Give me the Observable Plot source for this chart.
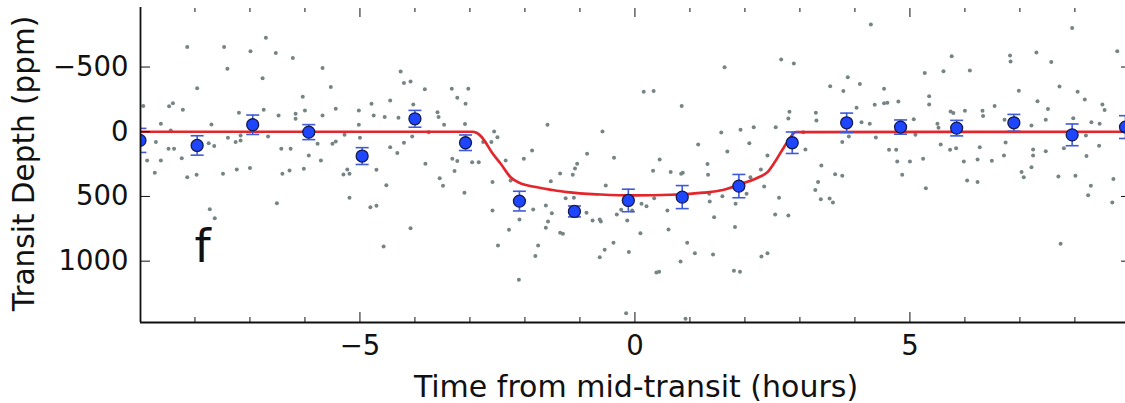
<!DOCTYPE html>
<html><head><meta charset="utf-8">
<script src="https://cdn.jsdelivr.net/npm/d3@7"></script>
<script src="https://cdn.jsdelivr.net/npm/@observablehq/plot@0.6"></script>
<style>html,body{margin:0;padding:0;background:#fff;overflow:hidden}</style>
</head><body><div id="chart"></div>
<script>
// Raw light-curve points: time (hours) and depth (ppm)
const scatterT = [
-8.14,-7.47,-6.71,-6.99,-6.53,-6.22,-7.41,-5.68,-6.77,-7.96,-5.53,-6.04,-8.40,-8.47,-8.94,-8.22,-7.20,-6.75,-6.48,-6.17,-6.17,-6.00,-5.68,-5.44,-5.02,-4.79,-4.75,-4.55,-4.45,-4.26,-4.20,-4.08,-3.82,-4.03,-4.30,-3.59,-3.57,-3.47,-3.33,-3.23,-3.08,-3.03,-3.09,-8.62,-7.70,-5.02,-8.44,-8.71,-8.48,-8.38,-8.24,-8.62,-8.87,-7.75,-7.65,-7.40,-7.26,-7.17,-7.17,-6.67,-6.43,-6.26,-5.93,-5.77,-5.71,-5.50,-5.44,-5.28,-5.00,-4.45,-4.32,-4.20,-4.05,-3.81,-3.32,-3.23,-3.75,
-8.73,-8.14,-7.97,-7.49,-7.24,-7.00,-6.41,-6.28,-6.02,-5.30,-5.23,-5.19,-4.70,-4.52,-5.19,-6.51,-4.81,-4.70,-7.73,-7.64,-4.08,-4.57,-3.55,-3.49,-3.28,-3.10,
-1.59,-2.56,-2.50,-2.61,-2.76,-1.87,-2.35,-2.02,-2.84,-2.96,-1.05,-0.87,-0.38,-0.59,0.16,0.34,0.85,1.63,2.66,2.89,2.81,2.79,2.56,2.16,1.92,1.57,2.08,1.15,1.68,0.45,1.32,2.41,
-2.59,-2.26,-1.53,-1.36,-1.13,-1.09,-0.53,0.33,0.65,0.84,0.87,1.33,2.29,2.10,2.35,2.62,2.55,2.79,1.35,1.36,1.44,1.83,1.82,1.59,2.03,-2.59,-2.10,-1.85,-1.62,-1.51,-1.26,-1.11,-0.88,-0.77,-0.64,-0.62,-0.33,-0.25,-0.05,0.12,0.21,0.35,0.59,-0.14,0.10,0.61,-1.58,-1.62,-2.29,-1.36,-1.31,-2.49,-1.76,-1.81,-0.39,-0.55,-0.64,-0.11,0.39,0.44,0.83,0.95,1.09,1.42,1.80,1.91,2.30,2.41,-2.11,-0.16,0.92,
4.29,7.95,5.76,6.82,6.83,7.30,7.57,8.77,5.27,5.61,6.09,3.87,3.55,4.09,3.79,4.53,6.98,7.72,8.05,8.18,5.35,5.35,4.79,4.36,4.53,4.59,4.03,3.29,3.30,4.12,4.27,5.07,5.50,5.52,5.74,5.79,6.00,6.32,6.33,6.54,6.72,7.21,7.32,7.47,7.51,8.30,8.45,8.50,8.54,7.97,3.06,3.89,3.77,4.38,5.10,3.10,4.62,4.75,5.56,5.73,5.84,6.27,6.74,6.71,7.24,7.24,7.47,7.80,8.20,8.21,8.44,4.77,5.00,5.24,5.98,6.23,6.49,3.39,
3.33,3.28,3.38,3.54,3.60,3.64,3.77,4.86,5.29,6.04,6.23,7.03,7.07,7.21,7.70,8.01,8.29,8.24,8.70,8.68,7.74
];
const scatterD = [
-654,-654,-726,-621,-608,-569,-487,-492,-414,-337,-345,-270,-221,-196,-198,-170,-147,-170,-126,-139,-100,-165,-126,-178,-165,-216,-126,-113,-242,-466,-376,-389,-329,-211,-108,-151,-113,-54,-332,-263,-216,-332,-59,-62,-56,-54,-10,80,131,131,204,222,222,88,111,46,80,67,29,36,131,131,183,93,222,93,75,23,46,119,165,85,36,247,209,227,3,
317,351,332,325,291,281,325,299,286,330,291,325,294,413,510,552,583,572,598,668,745,886,359,417,304,471,
-54,-2,42,80,80,145,222,209,235,235,247,170,201,-2,-309,-314,-198,-499,-559,-528,-155,-103,-35,-35,-15,5,88,98,152,214,250,183,
389,376,382,322,332,284,415,301,312,325,317,332,291,351,423,510,639,647,479,539,660,556,737,498,479,608,678,600,570,629,513,510,626,685,678,693,639,603,608,556,575,513,608,685,784,755,693,742,757,781,788,879,879,961,858,912,969,930,1087,1082,1002,858,938,948,1074,1082,964,938,1144,1402,1445,
-829,-801,-584,-590,-543,-613,-538,-621,-453,-468,-474,-422,-352,-368,-314,-332,-317,-350,-309,-250,-275,-211,-234,-209,-221,-224,-185,-147,-87,-74,-62,-97,-62,-31,-157,-144,-162,-162,-121,-198,-93,-49,-236,-93,-175,-74,-62,-211,-168,-105,3,36,80,44,23,137,139,139,98,139,127,119,83,183,137,183,150,127,29,188,108,230,230,209,230,214,224,260,
389,451,521,515,546,328,340,332,436,376,389,312,351,274,345,340,417,490,366,546,866
];

// Binned points with error bars
const binT   = [-9.0,-7.96,-6.95,-5.93,-4.96,-4.0,-3.08,-2.10,-1.10,-0.12,0.86,1.89,2.86,3.85,4.83,5.85,6.89,7.95,8.92];
const binD   = [67,106,-54,3,188,-100,85,536,616,531,505,420,85,-69,-36,-28,-69,24,-36];
const binErr = [93,75,75,58,65,65,60,76,42,87,89,90,83,75,55,60,65,84,88];

// Transit model curve
const modelT = [-8.99,-2.96,-2.88,-2.8,-2.74,-2.6,-2.44,-2.26,-2.1,-1.83,-1.5,-1.23,-0.62,0,0.65,1.25,1.6,1.98,2.23,2.41,2.55,2.71,2.82,2.92,8.92];
const modelD = [0,0,8,35,67,160,247,351,395,425,450,467,485,492,487,471,450,397,355,312,230,119,50,3,0];

// Axes
const xDomain = [-8.99, 8.92];
const yDomain = [-960, 1474];
const xMajor = [-5, 0, 5];
const xMinor = [-8,-7,-6,-4,-3,-2,-1,1,2,3,4,6,7,8];
const yMajor = [-500, 0, 500, 1000];
const panelLabel = [{t: -7.86, d: 1010, label: "f"}];
const xLabel = "Time from mid-transit (hours)";
const yLabel = "Transit Depth (ppm)";

const scatter = scatterT.map((t, i) => ({t, d: scatterD[i]}));
const bins = binT.map((t, i) => ({t, d: binD[i], e: binErr[i]}));
const model = modelT.map((t, i) => ({t, d: modelD[i]}));

const fmt = d => d < 0 ? "\u2212" + (-d) : String(d);
const capSymbol = {draw(ctx, size) { const w = Math.sqrt(size / Math.PI); ctx.moveTo(-w, 0); ctx.lineTo(w, 0); }};

const FONT = "DejaVu Sans";
const tickCol = "#111";
const blueBar = "#3f5ad8";

const chart = Plot.plot({
  width: 1125, height: 403,
  marginLeft: 140, marginRight: 0, marginTop: 7, marginBottom: 81,
  style: {fontFamily: FONT, background: "white", overflow: "visible"},
  x: {domain: xDomain},
  y: {domain: yDomain, reverse: true},
  marks: [
    Plot.dot(scatter, {x: "t", y: "d", r: 2, fill: "#778484", stroke: "none", clip: true}),
    Plot.line(model, {x: "t", y: "d", stroke: "#e3262b", strokeWidth: 2.7, curve: "monotone-x", clip: true}),
    Plot.ruleX(bins, {x: "t", y1: d => d.d - d.e, y2: d => d.d + d.e, stroke: blueBar, strokeWidth: 1.6, clip: true}),
    Plot.dot(bins, {x: "t", y: d => d.d - d.e, r: 6.5, symbol: capSymbol, fill: "none", stroke: blueBar, strokeWidth: 1.6, clip: true}),
    Plot.dot(bins, {x: "t", y: d => d.d + d.e, r: 6.5, symbol: capSymbol, fill: "none", stroke: blueBar, strokeWidth: 1.6, clip: true}),
    Plot.dot(bins, {x: "t", y: "d", r: 6, fill: "#1f46ff", stroke: "#151b4d", strokeWidth: 1.3, clip: true}),
    Plot.text(panelLabel, {x: "t", y: "d", text: "label", fontSize: 46, lineAnchor: "bottom", textAnchor: "middle", fill: "#111"}),
    // spines
    Plot.ruleX([xDomain[0]], {stroke: "#111", strokeWidth: 1.8}),
    Plot.ruleY([yDomain[1]], {stroke: "#111", strokeWidth: 1.8}),
    // bottom ticks (inward)
    Plot.axisX({anchor: "bottom", ticks: xMajor, tickSize: 10, dy: -10, text: null, label: null, stroke: tickCol}),
    Plot.axisX({anchor: "bottom", ticks: xMinor, tickSize: 5, dy: -5, text: null, label: null, stroke: tickCol}),
    Plot.axisX({anchor: "bottom", ticks: xMajor, tickSize: 0, tickPadding: 13, tickFormat: fmt, fontSize: 27.5, label: null, fill: tickCol}),
    // top ticks (inward)
    Plot.axisX({anchor: "top", ticks: xMajor, tickSize: 9, dy: 9, text: null, label: null, stroke: tickCol}),
    Plot.axisX({anchor: "top", ticks: xMinor, tickSize: 4, dy: 4, text: null, label: null, stroke: tickCol}),
    // left ticks
    Plot.axisY({anchor: "left", ticks: yMajor, tickSize: 10, dx: 10, text: null, label: null, stroke: tickCol}),
    Plot.axisY({anchor: "left", ticks: yMajor, tickSize: 0, tickPadding: 12, tickFormat: fmt, fontSize: 27.5, label: null, fill: tickCol}),
    // right ticks
    Plot.axisY({anchor: "right", ticks: yMajor, tickSize: 10, dx: -5, text: null, label: null, stroke: tickCol}),
    // axis titles
    Plot.text([xLabel], {frameAnchor: "bottom", dx: 3, dy: 53, lineAnchor: "top", textAnchor: "middle", fontSize: 30, fill: tickCol}),
    Plot.text([yLabel], {frameAnchor: "left", dx: -106.5, dy: -1.5, rotate: -90, lineAnchor: "bottom", textAnchor: "middle", fontSize: 29.5, fill: tickCol})
  ]
});
document.getElementById("chart").appendChild(chart);
</script>
</body></html>
